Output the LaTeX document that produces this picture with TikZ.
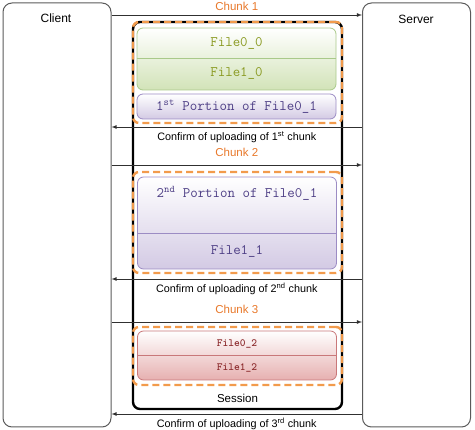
\documentclass[tikz,border=0pt]{standalone}
\usepackage{fontspec}
\setmainfont{Liberation Sans}
\usetikzlibrary{positioning}
\usetikzlibrary{shapes.geometric, arrows}
\definecolor{partygray}{HTML}{5A5A5A}
\definecolor{linegray}{HTML}{303030}
\definecolor{chunkorange}{HTML}{F29B4C}
\definecolor{labelorange}{HTML}{E8782A}
\definecolor{greenline}{HTML}{A9C98A}
\definecolor{greenfill}{HTML}{D2E3B8}
\definecolor{greentext}{HTML}{8A9A22}
\definecolor{purpleline}{HTML}{9C8CC4}
\definecolor{purplefill}{HTML}{D3CAE4}
\definecolor{purpletext}{HTML}{4E3F86}
\definecolor{redline}{HTML}{C9787A}
\definecolor{redfill}{HTML}{E6B0B0}
\definecolor{redtext}{HTML}{8E2E30}
\tikzstyle{party} = [rectangle, rounded corners=9pt, draw=partygray, line width=1pt, minimum width=108pt, minimum height=424pt, inner sep=0pt]
\tikzstyle{session} = [rectangle, rounded corners=7pt, draw=black, line width=2.4pt, minimum width=209pt, minimum height=387pt, inner sep=0pt]
\tikzstyle{chunk} = [rectangle, rounded corners=6pt, draw=chunkorange, line width=2.4pt, dash pattern=on 7pt off 4pt, minimum width=209pt, inner sep=0pt]
\tikzstyle{greenpart} = [rectangle, rounded corners=6pt, draw=greenline, line width=0.8pt, top color=white, bottom color=greenfill, minimum width=199pt, inner sep=0pt]
\tikzstyle{purplepart} = [rectangle, rounded corners=6pt, draw=purpleline, line width=0.8pt, top color=white, bottom color=purplefill, minimum width=199pt, inner sep=0pt]
\tikzstyle{redpart} = [rectangle, rounded corners=6pt, draw=redline, line width=0.8pt, top color=white, bottom color=redfill, minimum width=199pt, inner sep=0pt]
\tikzstyle{filename} = [font=\ttfamily\fontsize{14.5}{16}\selectfont]
\tikzstyle{smallname} = [font=\ttfamily\bfseries\fontsize{11}{13}\selectfont, text=redtext]
\tikzstyle{arrow} = [->,>=latex, draw=linegray, line width=0.8pt]
\tikzstyle{msg} = [font=\fontsize{10.8}{12}\selectfont]
\tikzstyle{chunklabel} = [font=\fontsize{11.5}{13}\selectfont, text=labelorange]

\begin{document}
\begin{tikzpicture}[x=1pt, y=-1pt]
        \useasboundingbox (0,0) rectangle (475,430);
        \node (client) [party] at (57,215) {};
        \node (server) [party] at (416.5,215) {};
        \node (clientname) [msg, font=\fontsize{12}{14}\selectfont] at (56,18) {Client};
        \node (servername) [msg, font=\fontsize{12}{14}\selectfont] at (416,19) {Server};

        \node (session) [session] at (237.5,215.5) {};
        \node (sessionname) [msg, font=\fontsize{11.5}{13}\selectfont] at (237.5,398) {Session};

        % chunk 1
        \node (chunk1) [chunk, minimum height=101pt] at (237.5,72.5) {};
        \node (green) [greenpart, minimum height=62pt] at (236.5,59) {};
        \draw [greenline, line width=1pt] (green.west) -- (green.east);
        \node (file00) [filename, text=greentext] at (236.5,43) {File0\_0};
        \node (file10) [filename, text=greentext] at (236.5,73) {File1\_0};
        \node (part1) [purplepart, minimum height=25pt] at (236.5,106.5) {};
        \node (file01a) [filename, text=purpletext] at (236.5,106.5) {1\textsuperscript{st} Portion of File0\_1};

        % chunk 2
        \node (chunk2) [chunk, minimum height=101pt] at (237.5,222.5) {};
        \node (purple) [purplepart, minimum height=92pt] at (237,223) {};
        \draw [purpleline, line width=1pt] ([yshift=-11pt]purple.west) -- ([yshift=-11pt]purple.east);
        \node (file01b) [filename, text=purpletext] at (237,193) {2\textsuperscript{nd} Portion of File0\_1};
        \node (file11) [filename, text=purpletext] at (237,251) {File1\_1};

        % chunk 3
        \node (chunk3) [chunk, minimum height=58pt] at (237.5,356) {};
        \node (red) [redpart, minimum height=49pt] at (237,355.5) {};
        \draw [redline, line width=1pt] ([yshift=-0.5pt]red.west) -- ([yshift=-0.5pt]red.east);
        \node (file02) [smallname] at (237,343.5) {File0\_2};
        \node (file12) [smallname] at (237,367.5) {File1\_2};

        % messages
        \coordinate (send1) at (237,15);
        \coordinate (ack1) at (237,127);
        \coordinate (send2) at (237,165);
        \coordinate (ack2) at (237,279);
        \coordinate (send3) at (237,322);
        \coordinate (ack3) at (237,414);
        \draw [arrow] (send1 -| client.east) -- (send1 -| server.west) node [chunklabel, midway, above=0.5pt] {Chunk 1};
        \draw [arrow] (ack1 -| server.west) -- (ack1 -| client.east) node [msg, midway, below=0.5pt] {Confirm of uploading of 1\textsuperscript{st} chunk};
        \draw [arrow] (send2 -| client.east) -- (send2 -| server.west) node [chunklabel, midway, above=5pt] {Chunk 2};
        \draw [arrow] (ack2 -| server.west) -- (ack2 -| client.east) node [msg, midway, below=0.5pt] {Confirm of uploading of 2\textsuperscript{nd} chunk};
        \draw [arrow] (send3 -| client.east) -- (send3 -| server.west) node [chunklabel, midway, above=5pt] {Chunk 3};
        \draw [arrow] (ack3 -| server.west) -- (ack3 -| client.east) node [msg, midway, below=0.5pt] {Confirm of uploading of 3\textsuperscript{rd} chunk};
    \end{tikzpicture}
\end{document}
